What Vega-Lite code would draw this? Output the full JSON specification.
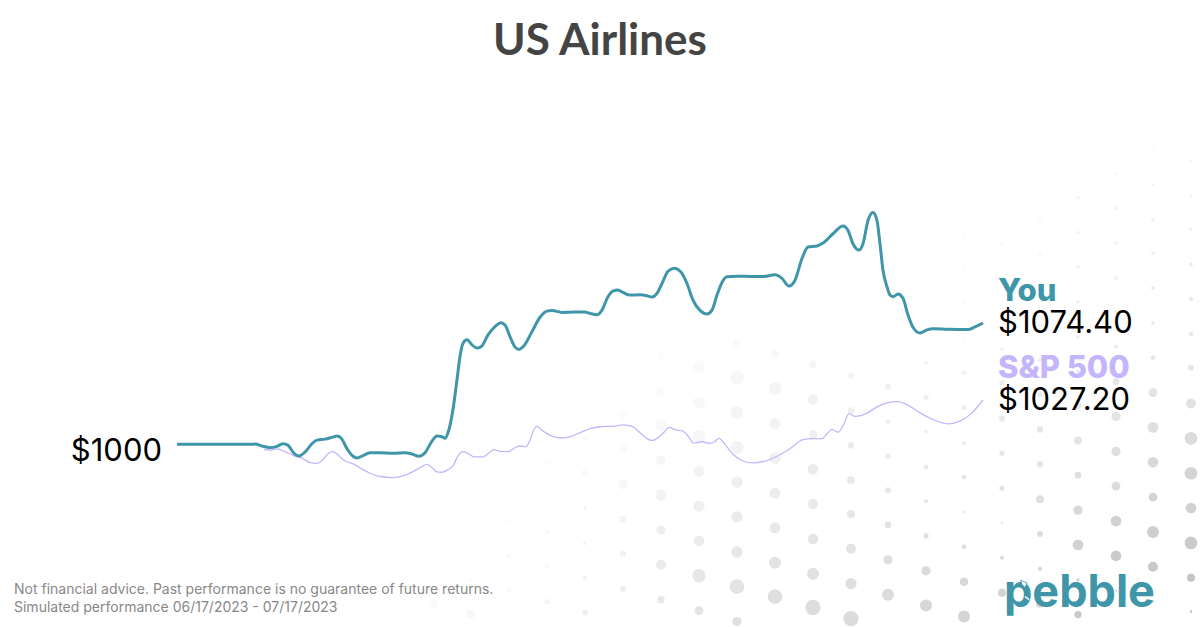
{"$schema":"https://vega.github.io/schema/vega-lite/v6.json","width":1200,"height":627,"autosize":{"type":"fit","contains":"padding"},"padding":0,"background":"#ffffff","config":{"view":{"stroke":null}},
"datasets":{
"you":[{"s":0,"v":1000},{"s":73,"v":1000},{"s":78,"v":1000.2},{"s":85,"v":999},{"s":93,"v":998},{"s":100,"v":998.8},{"s":106,"v":1000.4},{"s":111,"v":999.4},{"s":117,"v":994.5},{"s":122,"v":992.9},{"s":128,"v":995.3},{"s":135,"v":1000.4},{"s":140,"v":1002.6},{"s":148,"v":1003.2},{"s":155,"v":1004.3},{"s":160,"v":1005.1},{"s":164,"v":1003.9},{"s":170,"v":997.4},{"s":176,"v":992.7},{"s":180,"v":991.7},{"s":186,"v":993.1},{"s":193,"v":994.9},{"s":203,"v":994.9},{"s":216,"v":994.5},{"s":228,"v":994.9},{"s":235,"v":994.1},{"s":242,"v":992.7},{"s":248,"v":994.9},{"s":255,"v":1002},{"s":260,"v":1005.1},{"s":265,"v":1004.7},{"s":268,"v":1003.7},{"s":271,"v":1007.1},{"s":276,"v":1021.4},{"s":280,"v":1039.6},{"s":283,"v":1053.9},{"s":286,"v":1062},{"s":290,"v":1064.1},{"s":295,"v":1061},{"s":300,"v":1059},{"s":305,"v":1060.4},{"s":311,"v":1067.1},{"s":318,"v":1072.2},{"s":324,"v":1074.6},{"s":328,"v":1073.2},{"s":333,"v":1066.1},{"s":338,"v":1059.6},{"s":342,"v":1058.2},{"s":347,"v":1060.4},{"s":355,"v":1069.1},{"s":363,"v":1077.9},{"s":370,"v":1081.7},{"s":375,"v":1082.1},{"s":385,"v":1080.9},{"s":398,"v":1081.1},{"s":408,"v":1081.1},{"s":413,"v":1080.3},{"s":420,"v":1079.5},{"s":425,"v":1082.3},{"s":431,"v":1090.5},{"s":436,"v":1093.9},{"s":441,"v":1094.6},{"s":446,"v":1093.1},{"s":453,"v":1091.5},{"s":463,"v":1091.7},{"s":470,"v":1091.1},{"s":475,"v":1090.3},{"s":480,"v":1092.5},{"s":485,"v":1098.6},{"s":491,"v":1106.1},{"s":497,"v":1108},{"s":504,"v":1105.7},{"s":510,"v":1098.6},{"s":516,"v":1088.4},{"s":523,"v":1082.1},{"s":530,"v":1079.9},{"s":535,"v":1082.3},{"s":540,"v":1091.5},{"s":545,"v":1099.2},{"s":550,"v":1102.7},{"s":560,"v":1103.1},{"s":573,"v":1102.9},{"s":586,"v":1102.9},{"s":598,"v":1103.9},{"s":605,"v":1101.7},{"s":612,"v":1097},{"s":618,"v":1100.6},{"s":625,"v":1113.9},{"s":631,"v":1121},{"s":640,"v":1121.6},{"s":646,"v":1123.4},{"s":656,"v":1129.1},{"s":666,"v":1133.8},{"s":671,"v":1131.1},{"s":676,"v":1123},{"s":682,"v":1119.1},{"s":686,"v":1123},{"s":691,"v":1137.2},{"s":696,"v":1142.1},{"s":700,"v":1137.2},{"s":703,"v":1123},{"s":706,"v":1106.7},{"s":710,"v":1096.6},{"s":713,"v":1091.5},{"s":716,"v":1090.5},{"s":721,"v":1092.1},{"s":726,"v":1089.5},{"s":731,"v":1079.3},{"s":736,"v":1071.8},{"s":743,"v":1068.3},{"s":750,"v":1070.2},{"s":756,"v":1070.9},{"s":770,"v":1070.6},{"s":783,"v":1070.4},{"s":791,"v":1070.4},{"s":798,"v":1072},{"s":806,"v":1074.4}],
"sp":[{"s":87,"v":996.8},{"s":93,"v":996.5},{"s":100,"v":997.2},{"s":108,"v":995.5},{"s":116,"v":993.3},{"s":126,"v":991.3},{"s":133,"v":988.8},{"s":140,"v":988.4},{"s":146,"v":990.8},{"s":151,"v":994.3},{"s":156,"v":995.5},{"s":161,"v":993.5},{"s":168,"v":989.8},{"s":175,"v":988.4},{"s":183,"v":985.6},{"s":193,"v":982.3},{"s":203,"v":980.3},{"s":216,"v":979.6},{"s":226,"v":980.7},{"s":236,"v":983.3},{"s":245,"v":986.4},{"s":250,"v":987.8},{"s":255,"v":985.8},{"s":260,"v":983.1},{"s":265,"v":982.9},{"s":271,"v":984.5},{"s":276,"v":986.8},{"s":281,"v":992.9},{"s":286,"v":995.5},{"s":291,"v":994.5},{"s":297,"v":992.3},{"s":306,"v":992.3},{"s":311,"v":994.3},{"s":317,"v":996.8},{"s":323,"v":995.7},{"s":331,"v":995.5},{"s":338,"v":998},{"s":343,"v":999},{"s":349,"v":998.6},{"s":353,"v":1002.6},{"s":357,"v":1009.1},{"s":360,"v":1011},{"s":366,"v":1008.1},{"s":375,"v":1005.1},{"s":385,"v":1003.9},{"s":395,"v":1005.1},{"s":405,"v":1007.7},{"s":413,"v":1009.6},{"s":423,"v":1010.8},{"s":438,"v":1011.2},{"s":446,"v":1012},{"s":455,"v":1011},{"s":463,"v":1007.1},{"s":470,"v":1003.5},{"s":475,"v":1002.4},{"s":481,"v":1004.1},{"s":488,"v":1008.1},{"s":492,"v":1010.4},{"s":498,"v":1009},{"s":506,"v":1008.1},{"s":511,"v":1005.1},{"s":517,"v":1000.8},{"s":525,"v":1001.6},{"s":533,"v":1000.6},{"s":538,"v":1001.8},{"s":542,"v":1003.7},{"s":548,"v":1000},{"s":556,"v":993.9},{"s":566,"v":989.8},{"s":576,"v":988.6},{"s":588,"v":989.8},{"s":600,"v":992.7},{"s":613,"v":997.4},{"s":626,"v":1002.9},{"s":635,"v":1003.5},{"s":645,"v":1003.5},{"s":650,"v":1006.5},{"s":655,"v":1009.2},{"s":661,"v":1007.5},{"s":666,"v":1011.2},{"s":672,"v":1018.9},{"s":678,"v":1017.1},{"s":690,"v":1019.1},{"s":700,"v":1023},{"s":710,"v":1025.4},{"s":721,"v":1026.2},{"s":730,"v":1024.4},{"s":743,"v":1019.3},{"s":756,"v":1015.2},{"s":771,"v":1012.6},{"s":783,"v":1014.2},{"s":795,"v":1019.3},{"s":806,"v":1027.2}],
"dots":[
{"s":1014,"v":1195.2,"d":1.7,"g":6},{"s":1014,"v":1173.9,"d":2.7,"g":10},{"s":1014,"v":1152.5,"d":3,"g":14},{"s":1014,"v":1131.8,"d":3.3,"g":16},{"s":1014,"v":1110.4,"d":4,"g":18},{"s":1014,"v":1089.1,"d":4.7,"g":20},{"s":1014,"v":1067.7,"d":4.7,"g":22},{"s":1014,"v":1047,"d":6,"g":24},{"s":1014,"v":1025,"d":10,"g":30},{"s":1014,"v":1003.7,"d":12.7,"g":36},{"s":1014,"v":982.3,"d":12.7,"g":42},{"s":1014,"v":961,"d":10.7,"g":46},{"s":1014,"v":939.6,"d":12.7,"g":52},{"s":1014,"v":918.3,"d":8,"g":58},{"s":1014,"v":897.5,"d":2.7,"g":58},
{"s":976,"v":1201.9,"d":1.3,"g":4},{"s":976,"v":1180.6,"d":2.3,"g":8},{"s":976,"v":1159.2,"d":3,"g":12},{"s":976,"v":1137.9,"d":4,"g":14},{"s":976,"v":1117.1,"d":4,"g":16},{"s":976,"v":1095.8,"d":4,"g":18},{"s":976,"v":1074.4,"d":4,"g":20},{"s":976,"v":1053.1,"d":4.7,"g":24},{"s":976,"v":1031.7,"d":8.7,"g":28},{"s":976,"v":1010.4,"d":10.7,"g":32},{"s":976,"v":989,"d":10.7,"g":38},{"s":976,"v":967.7,"d":8.7,"g":44},{"s":976,"v":946.3,"d":12,"g":48},{"s":976,"v":925,"d":10,"g":54},{"s":976,"v":903.6,"d":2,"g":54},
{"s":939,"v":1187.3,"d":1.7,"g":6},{"s":939,"v":1165.9,"d":2.7,"g":10},{"s":939,"v":1144.6,"d":3.7,"g":12},{"s":939,"v":1123.2,"d":3.7,"g":14},{"s":939,"v":1101.9,"d":3.7,"g":16},{"s":939,"v":1081.1,"d":3.3,"g":18},{"s":939,"v":1059.8,"d":4,"g":20},{"s":939,"v":1038.4,"d":6.7,"g":24},{"s":939,"v":1017.1,"d":9.3,"g":26},{"s":939,"v":995.7,"d":9.3,"g":32},{"s":939,"v":974.4,"d":8.7,"g":36},{"s":939,"v":953,"d":10.7,"g":46},{"s":939,"v":931.7,"d":10.7,"g":52},{"s":939,"v":910.3,"d":2,"g":54},
{"s":901,"v":1194,"d":1,"g":4},{"s":901,"v":1172.6,"d":2.7,"g":6},{"s":901,"v":1151.3,"d":3.3,"g":10},{"s":901,"v":1129.9,"d":3.3,"g":12},{"s":901,"v":1108.6,"d":3.3,"g":14},{"s":901,"v":1087.2,"d":3.3,"g":16},{"s":901,"v":1065.9,"d":3.3,"g":18},{"s":901,"v":1044.5,"d":4,"g":20},{"s":901,"v":1023.8,"d":6.7,"g":22},{"s":901,"v":1002.4,"d":8,"g":26},{"s":901,"v":981.1,"d":6.7,"g":32},{"s":901,"v":959.7,"d":9.3,"g":38},{"s":901,"v":938.4,"d":10.7,"g":46},{"s":901,"v":917,"d":3.3,"g":50},{"s":901,"v":895.7,"d":7.3,"g":54},
{"s":863,"v":1178.7,"d":1.3,"g":4},{"s":863,"v":1158,"d":2.7,"g":6},{"s":863,"v":1136.6,"d":3,"g":8},{"s":863,"v":1115.9,"d":3.3,"g":10},{"s":863,"v":1094.6,"d":3.3,"g":12},{"s":863,"v":1073.2,"d":3.3,"g":14},{"s":863,"v":1051.9,"d":4,"g":16},{"s":863,"v":1030.5,"d":5.3,"g":18},{"s":863,"v":1009.2,"d":6.7,"g":24},{"s":863,"v":987.8,"d":6,"g":28},{"s":863,"v":966.4,"d":8,"g":32},{"s":863,"v":945.1,"d":6,"g":36},{"s":863,"v":923.7,"d":4,"g":42},{"s":863,"v":902.4,"d":8,"g":46},
{"s":825,"v":1164.7,"d":2,"g":4},{"s":825,"v":1143.4,"d":2.7,"g":6},{"s":825,"v":1122.6,"d":3,"g":8},{"s":825,"v":1101.3,"d":3,"g":10},{"s":825,"v":1079.9,"d":3,"g":12},{"s":825,"v":1058.6,"d":3.3,"g":14},{"s":825,"v":1037.8,"d":5.3,"g":18},{"s":825,"v":1015.9,"d":6,"g":22},{"s":825,"v":994.5,"d":5.3,"g":24},{"s":825,"v":973.2,"d":5.3,"g":28},{"s":825,"v":951.8,"d":2,"g":32},{"s":825,"v":930.5,"d":4,"g":36},{"s":825,"v":909.1,"d":8,"g":44},
{"s":787,"v":1150.1,"d":2,"g":4},{"s":787,"v":1129.3,"d":2.7,"g":5},{"s":787,"v":1108,"d":2.7,"g":6},{"s":787,"v":1086.6,"d":2.7,"g":8},{"s":787,"v":1065.3,"d":2,"g":10},{"s":787,"v":1043.9,"d":4.7,"g":14},{"s":787,"v":1022.6,"d":5.3,"g":16},{"s":787,"v":1000.6,"d":4,"g":20},{"s":787,"v":979.9,"d":4.7,"g":26},{"s":787,"v":958.5,"d":2.3,"g":30},{"s":787,"v":937.2,"d":4.7,"g":34},{"s":787,"v":915.8,"d":8.7,"g":38},{"s":787,"v":894.5,"d":12,"g":42},
{"s":749,"v":1135.4,"d":2,"g":3},{"s":749,"v":1114.1,"d":2,"g":4},{"s":749,"v":1092.7,"d":2.7,"g":6},{"s":749,"v":1071.4,"d":2,"g":8},{"s":749,"v":1050,"d":4,"g":12},{"s":749,"v":1028.7,"d":5.3,"g":16},{"s":749,"v":1007.9,"d":3.3,"g":18},{"s":749,"v":986,"d":4.7,"g":22},{"s":749,"v":965.2,"d":4,"g":26},{"s":749,"v":943.9,"d":5.3,"g":30},{"s":749,"v":922.5,"d":9.3,"g":36},{"s":749,"v":901.2,"d":12,"g":40},
{"s":711,"v":1078.1,"d":1.7,"g":4},{"s":711,"v":1056.7,"d":3.3,"g":8},{"s":711,"v":1035.4,"d":6,"g":14},{"s":711,"v":1014,"d":4.7,"g":16},{"s":711,"v":992.7,"d":5.3,"g":20},{"s":711,"v":971.9,"d":6,"g":24},{"s":711,"v":950.6,"d":6.7,"g":28},{"s":711,"v":929.2,"d":9.3,"g":32},{"s":711,"v":907.9,"d":12,"g":36},
{"s":674,"v":1106.1,"d":1.7,"g":3},{"s":674,"v":1084.8,"d":2,"g":4},{"s":674,"v":1063.4,"d":2.7,"g":6},{"s":674,"v":1042.1,"d":6,"g":12},{"s":674,"v":1020.7,"d":6.7,"g":16},{"s":674,"v":999.4,"d":6.7,"g":20},{"s":674,"v":978,"d":8,"g":22},{"s":674,"v":957.3,"d":8,"g":24},{"s":674,"v":936,"d":10,"g":28},{"s":674,"v":914.6,"d":11.3,"g":32},{"s":674,"v":893.2,"d":15.3,"g":36},
{"s":636,"v":1112.9,"d":2,"g":2},{"s":636,"v":1091.5,"d":2.3,"g":3},{"s":636,"v":1070.2,"d":3,"g":4},{"s":636,"v":1048.8,"d":7.3,"g":10},{"s":636,"v":1027.5,"d":10,"g":14},{"s":636,"v":1006.1,"d":8.7,"g":16},{"s":636,"v":984.7,"d":10.7,"g":20},{"s":636,"v":963.4,"d":10,"g":22},{"s":636,"v":942,"d":10.7,"g":26},{"s":636,"v":920.7,"d":12,"g":30},{"s":636,"v":900,"d":15.3,"g":34},
{"s":598,"v":1076.9,"d":2,"g":3},{"s":598,"v":1055.5,"d":7.3,"g":8},{"s":598,"v":1034.2,"d":12.7,"g":10},{"s":598,"v":1012.8,"d":11.3,"g":12},{"s":598,"v":991.5,"d":12,"g":14},{"s":598,"v":970.1,"d":10.7,"g":18},{"s":598,"v":948.8,"d":10.7,"g":22},{"s":598,"v":927.4,"d":12,"g":28},{"s":598,"v":906.7,"d":14.7,"g":32},
{"s":560,"v":1062.2,"d":8.7,"g":5},{"s":560,"v":1040.9,"d":14,"g":8},{"s":560,"v":1019.5,"d":12.7,"g":10},{"s":560,"v":998.2,"d":12.7,"g":12},{"s":560,"v":976.8,"d":11.3,"g":16},{"s":560,"v":955.5,"d":11.3,"g":20},{"s":560,"v":934.1,"d":11.3,"g":24},{"s":560,"v":912.8,"d":14.7,"g":28},{"s":560,"v":891.4,"d":9.3,"g":32},
{"s":522,"v":1047.6,"d":12.7,"g":5},{"s":522,"v":1025.6,"d":12,"g":7},{"s":522,"v":1004.9,"d":12.7,"g":9},{"s":522,"v":983.5,"d":11.3,"g":12},{"s":522,"v":962.2,"d":11.3,"g":16},{"s":522,"v":940.8,"d":10.7,"g":20},{"s":522,"v":919.5,"d":13.3,"g":24},{"s":522,"v":898.1,"d":8.7,"g":28},
{"s":484,"v":1053.7,"d":7.3,"g":3},{"s":484,"v":1032.3,"d":9.3,"g":5},{"s":484,"v":1011.6,"d":11.3,"g":7},{"s":484,"v":990.2,"d":9.3,"g":9},{"s":484,"v":968.9,"d":11.3,"g":12},{"s":484,"v":947.5,"d":9.3,"g":16},{"s":484,"v":926.2,"d":10,"g":20},{"s":484,"v":904.8,"d":7.3,"g":24},
{"s":446,"v":1039,"d":4.7,"g":2},{"s":446,"v":1018.3,"d":8.7,"g":4},{"s":446,"v":997,"d":8,"g":6},{"s":446,"v":975.6,"d":10,"g":8},{"s":446,"v":954.2,"d":6.7,"g":12},{"s":446,"v":932.9,"d":6,"g":14},{"s":446,"v":911.5,"d":6,"g":18},
{"s":408,"v":1003.7,"d":6,"g":5},{"s":408,"v":982.3,"d":7.3,"g":6},{"s":408,"v":961,"d":4,"g":10},{"s":408,"v":939.6,"d":4,"g":11},{"s":408,"v":918.3,"d":4.7,"g":13},{"s":408,"v":896.9,"d":6,"g":15},
{"s":370,"v":989,"d":6,"g":3},{"s":370,"v":967.7,"d":2.7,"g":5},{"s":370,"v":946.3,"d":4,"g":7},{"s":370,"v":925,"d":4,"g":9},{"s":370,"v":903.6,"d":5.3,"g":11},
{"s":332,"v":974.4,"d":1.7,"g":2},{"s":332,"v":953,"d":4,"g":4},{"s":332,"v":931.7,"d":4,"g":6},{"s":332,"v":910.3,"d":4.7,"g":8},
{"s":294,"v":959.1,"d":1.7,"g":2},{"s":294,"v":938.4,"d":4,"g":4},{"s":294,"v":917,"d":3.3,"g":5},{"s":294,"v":895.7,"d":9.3,"g":7},
{"s":257,"v":944.5,"d":1.3,"g":2},{"s":257,"v":923.7,"d":2.7,"g":3},{"s":257,"v":902.4,"d":8.7,"g":5}]
},
"encoding":{"x":{"field":"s","type":"quantitative","axis":null,"scale":{"domain":[-177,1023],"nice":false,"zero":false}},"y":{"field":"v","type":"quantitative","axis":null,"scale":{"domain":[889.9,1272.37],"nice":false,"zero":false}}},
"layer":[
{"data":{"name":"dots"},"mark":{"type":"circle","opacity":1},"encoding":{"size":{"field":"d","type":"quantitative","legend":null,"scale":{"type":"pow","exponent":2,"domain":[0,20],"range":[0,400]}},"color":{"field":"g","type":"quantitative","legend":null,"scale":{"domain":[0,58],"range":["#ffffff","#c5c5c5"]}}}},
{"data":{"name":"sp"},"mark":{"type":"line","color":"#c4b5fd","strokeWidth":1.3,"interpolate":"monotone"}},
{"data":{"name":"you"},"mark":{"type":"line","color":"#4096a9","strokeWidth":3,"interpolate":"monotone"}},
{"data":{"values":[{"s":423,"v":1238.8,"t":"US Airlines"}]},"mark":{"type":"text","font":"Lato","fontSize":44,"fontWeight":700,"color":"#444444","align":"center","baseline":"alphabetic"},"encoding":{"text":{"field":"t"}}},
{"data":{"values":[{"s":-15,"v":1000,"t":"$1000"}]},"mark":{"type":"text","font":"Inter","fontSize":31,"color":"#000000","align":"right","baseline":"middle","dy":8},"encoding":{"text":{"field":"t"}}},
{"data":{"values":[{"s":821,"v":1074.4,"t":"$1074.40"},{"s":821,"v":1027.2,"t":"$1027.20"}]},"mark":{"type":"text","font":"Inter","fontSize":31,"color":"#000000","align":"left","baseline":"middle","dy":1},"encoding":{"text":{"field":"t"}}},
{"data":{"values":[{"s":821,"v":1074.4,"t":"You","c":"y"},{"s":821,"v":1027.2,"t":"S&P 500","c":"s"}]},"mark":{"type":"text","font":"Inter","fontSize":31,"fontWeight":800,"align":"left","baseline":"middle","dy":-31},"encoding":{"text":{"field":"t"},"color":{"field":"c","legend":null,"scale":{"domain":["y","s"],"range":["#4096a9","#c4b5fd"]}}}},
{"data":{"values":[{"s":-163,"v":910.7,"t":"Not financial advice. Past performance is no guarantee of future returns."},{"s":-163,"v":899.7,"t":"Simulated performance 06/17/2023 - 07/17/2023"}]},"mark":{"type":"text","font":"Inter","fontSize":14,"color":"#888888","align":"left","baseline":"middle"},"encoding":{"text":{"field":"t"}}},
{"data":{"values":[{"s":827,"v":900.3,"t":"pebble"}]},"mark":{"type":"text","font":"Inter","fontSize":45,"fontWeight":700,"color":"#4096a9","align":"left","baseline":"alphabetic"},"encoding":{"text":{"field":"t"}}},
{"data":{"values":[{"s":846,"v":914.3}]},"mark":{"type":"point","shape":"M-0.6,-1 L1,-0.3 L0.5,0.8 L-0.2,0.1 Z","filled":true,"size":64,"fill":"#ffffff","stroke":"#4096a9","strokeWidth":0.8,"opacity":1}},
{"data":{"values":[{"s":850,"v":905.8}]},"mark":{"type":"point","shape":"M-1,-0.3 L1,-0.3 L1,0.3 L-1,0.3 Z","filled":true,"size":25,"fill":"#ffffff","angle":40,"opacity":1}}
]}
